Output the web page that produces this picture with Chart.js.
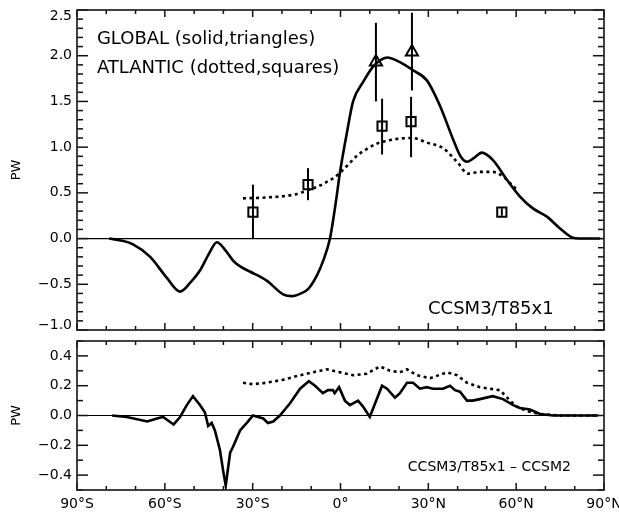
<!DOCTYPE html>
<html><head><meta charset="utf-8">
<script src="https://cdn.jsdelivr.net/npm/chart.js@4"></script>
<style>
html,body{margin:0;padding:0;background:#fff;}
#wrap{position:relative;width:619px;height:517px;overflow:hidden;background:#fff;}
canvas{position:absolute;left:0;}
#c1{top:0;} #c2{top:330px;}
</style></head><body>
<div id="wrap"><canvas id="c1" width="619" height="345"></canvas><canvas id="c2" width="619" height="187"></canvas></div>
<script>
// ---------- data ----------
const xMajorTicks = [-90, -60, -30, 0, 30, 60, 90];
const topYTicks = [-1.0, -0.5, 0.0, 0.5, 1.0, 1.5, 2.0, 2.5];
const botYTicks = [-0.4, -0.2, 0.0, 0.2, 0.4];

// Top panel: total (global) heat transport, solid
const globalLat = [-79, -75, -71, -65, -59.3, -54.8, -51, -48, -45, -42.2, -39.5, -36.7, -34, -31, -25.2, -19.6, -16.6, -13.5, -11, -8, -6, -3.6, -1.5, -0.2, 2.2, 4.3, 7.7, 11.1, 13.5, 15.9, 20.3, 24.8, 29.5, 34, 38.4, 41, 43.2, 45.5, 48.3, 52, 56.9, 61.3, 65.7, 70.5, 75, 79.4, 84, 88.6];
const globalPW  = [0.0, -0.02, -0.06, -0.2, -0.43, -0.58, -0.47, -0.35, -0.17, -0.04, -0.12, -0.24, -0.31, -0.36, -0.46, -0.61, -0.63, -0.6, -0.55, -0.4, -0.25, 0.0, 0.42, 0.72, 1.16, 1.5, 1.71, 1.88, 1.95, 1.98, 1.93, 1.84, 1.73, 1.45, 1.09, 0.9, 0.84, 0.88, 0.94, 0.86, 0.64, 0.46, 0.33, 0.24, 0.11, 0.01, 0.0, 0.0];

// Top panel: Atlantic heat transport, dotted
const atlLat = [-33.3, -25, -16, -11, -7, -4.7, -2, -0.2, 3, 5.4, 9, 12.5, 16, 19.3, 24.4, 29.5, 35, 39.8, 43.6, 47.6, 52, 56.2, 59, 60.5];
const atlPW  = [0.44, 0.45, 0.48, 0.53, 0.58, 0.62, 0.67, 0.72, 0.82, 0.9, 0.98, 1.04, 1.07, 1.09, 1.1, 1.05, 0.99, 0.84, 0.71, 0.73, 0.73, 0.66, 0.57, 0.53];

// Observational estimates
const obsGlobalLat = [12.1, 24.4];
const obsGlobalPW  = [1.93, 2.04];
const obsGlobalLo  = [1.50, 1.62];
const obsGlobalHi  = [2.36, 2.47];
const obsAtlLat = [-29.9, -11.1, 14.2, 24.1, 55.1];
const obsAtlPW  = [0.29, 0.59, 1.23, 1.28, 0.29];
const obsAtlLo  = [0.0, 0.42, 0.92, 0.89, 0.25];
const obsAtlHi  = [0.59, 0.77, 1.53, 1.55, 0.33];

// Bottom panel: difference CCSM3 - CCSM2
const diffGlobalLat = [-78, -73, -66, -62.7, -60.6, -57, -54.8, -52.5, -50.4, -48, -46.3, -45.2, -44, -42.9, -41.2, -40, -39.2, -37.7, -36.7, -34.3, -32, -29.9, -26.4, -24.8, -23, -20.7, -17.3, -13.8, -10.8, -8.7, -6, -4.3, -2.6, -2, -0.5, 1.5, 3.2, 6, 7.7, 10, 11.8, 14.2, 15.9, 18.6, 20.3, 22.7, 24.8, 27.1, 29.5, 31.6, 35, 37.4, 39.1, 40.8, 43.2, 45.2, 47.6, 52, 55.5, 59, 61.3, 64.7, 68.1, 72.6, 80, 88];
const diffGlobalPW  = [0.0, -0.01, -0.04, -0.02, -0.01, -0.06, -0.01, 0.07, 0.13, 0.07, 0.02, -0.07, -0.05, -0.1, -0.23, -0.38, -0.47, -0.25, -0.21, -0.1, -0.05, 0.0, -0.02, -0.05, -0.04, 0.0, 0.08, 0.18, 0.23, 0.2, 0.15, 0.17, 0.17, 0.15, 0.19, 0.1, 0.07, 0.1, 0.06, -0.01, 0.08, 0.2, 0.18, 0.12, 0.15, 0.22, 0.22, 0.18, 0.19, 0.18, 0.18, 0.2, 0.17, 0.16, 0.1, 0.1, 0.11, 0.13, 0.11, 0.07, 0.05, 0.04, 0.01, 0.0, 0.0, 0.0];
const diffAtlLat = [-33.3, -29.9, -25.2, -19.6, -13.8, -9.4, -4.6, -0.2, 4.3, 9, 13.5, 16.9, 20.3, 22.7, 26.1, 30.6, 36.3, 39.8, 43.2, 47.6, 51, 54.5, 57.9, 60.2, 63.6, 68, 75, 88];
const diffAtlPW  = [0.22, 0.21, 0.22, 0.24, 0.27, 0.29, 0.31, 0.29, 0.27, 0.28, 0.33, 0.3, 0.29, 0.31, 0.27, 0.25, 0.29, 0.27, 0.22, 0.19, 0.18, 0.17, 0.1, 0.06, 0.03, 0.01, 0.0, 0.0];

// ---------- helpers ----------
const FONT = "'DejaVu Sans', 'Liberation Sans', Arial, sans-serif";
const pts = (xs, ys) => xs.map((x, i) => ({x: x, y: ys[i]}));
function minorList(lo, hi, step, majors) {
  const out = [];
  const n = Math.round((hi - lo) / step);
  for (let i = 0; i <= n; i++) {
    const v = +(lo + i * step).toFixed(4);
    if (!majors.some(m => Math.abs(m - v) < 1e-6)) out.push(v);
  }
  return out;
}
function latLabel(v) {
  if (v === 0) return '0\u00B0';
  return Math.abs(v) + '\u00B0' + (v < 0 ? 'S' : 'N');
}
function numLabel(v) {
  const s = Math.abs(v).toFixed(1);
  return (v < -1e-9 ? '\u2212' : '') + s;
}
function errorBars(lat, lo, hi) {
  return lat.map((x, i) => ({
    data: [{x: x, y: lo[i]}, {x: x, y: hi[i]}],
    showLine: true, borderColor: '#000', borderWidth: 2, pointRadius: 0, tension: 0
  }));
}

const framePlugin = {
  id: 'frame',
  beforeDatasetsDraw(chart, args, o) {
    const {ctx, chartArea: a, scales} = chart;
    const y0 = scales.y.getPixelForValue(0);
    ctx.save();
    ctx.strokeStyle = '#000'; ctx.lineWidth = 1.2;
    ctx.beginPath(); ctx.moveTo(a.left, y0); ctx.lineTo(a.right, y0); ctx.stroke();
    ctx.restore();
  },
  afterDatasetsDraw(chart, args, o) {
    const {ctx, chartArea: a, scales} = chart;
    const xs = scales.x, ys = scales.y;
    ctx.save();
    ctx.strokeStyle = '#111'; ctx.lineWidth = 1.5;
    const seg = (x1, y1, x2, y2) => { ctx.beginPath(); ctx.moveTo(x1, y1); ctx.lineTo(x2, y2); ctx.stroke(); };
    o.xMajor.forEach(v => { const p = xs.getPixelForValue(v); seg(p, a.bottom, p, a.bottom - 7); seg(p, a.top, p, a.top + 7); });
    o.xMinor.forEach(v => { const p = xs.getPixelForValue(v); seg(p, a.bottom, p, a.bottom - 4); seg(p, a.top, p, a.top + 4); });
    o.yMajor.forEach(v => { const p = ys.getPixelForValue(v); seg(a.left, p, a.left + 11, p); seg(a.right, p, a.right - 11, p); });
    o.yMinor.forEach(v => { const p = ys.getPixelForValue(v); seg(a.left, p, a.left + 6, p); seg(a.right, p, a.right - 6, p); });
    ctx.lineWidth = 1.7; ctx.strokeStyle = '#222';
    ctx.strokeRect(a.left, a.top, a.right - a.left, a.bottom - a.top);
    ctx.fillStyle = '#000';
    // end tick labels nudged inside the frame (as in the original figure)
    ctx.textAlign = 'right'; ctx.textBaseline = 'middle';
    ctx.font = '14px ' + FONT;
    (o.endLabels || []).forEach(e => {
      ctx.fillText(numLabel(e.v), a.left - 5, ys.getPixelForValue(e.v) + e.dy);
    });
    // annotations
    ctx.textAlign = 'left';
    (o.texts || []).forEach(t => {
      ctx.font = t.size + 'px ' + FONT;
      ctx.fillText(t.text, xs.getPixelForValue(t.x), ys.getPixelForValue(t.y));
    });
    ctx.restore();
  }
};

function yScale(min, max, ticks, hidden) {
  return {
    type: 'linear', min: min, max: max,
    afterBuildTicks: s => { s.ticks = ticks.map(v => ({value: v})); },
    afterFit: s => { s.width = 77; s.paddingTop = 0; s.paddingBottom = 0; },
    grid: {display: false, drawTicks: false},
    border: {display: false},
    ticks: {color: '#000', font: {family: FONT, size: 14}, padding: 5,
      callback: v => hidden.some(h => Math.abs(h - v) < 1e-6) ? '' : numLabel(v)},
    title: {display: true, text: 'PW', color: '#000', font: {family: FONT, size: 13}, padding: {top: 9, bottom: 0}}
  };
}
function xScale(show, h) {
  return {
    type: 'linear', min: -90, max: 90, display: show,
    afterBuildTicks: s => { s.ticks = xMajorTicks.map(v => ({value: v})); },
    afterFit: s => { s.height = h; s.paddingLeft = 0; s.paddingRight = 0; },
    grid: {display: false, drawTicks: false},
    border: {display: false},
    ticks: {color: '#000', font: {family: FONT, size: 14}, padding: 6, maxRotation: 0, autoSkip: false, callback: v => latLabel(v)}
  };
}

const xMinor = minorList(-90, 90, 10, xMajorTicks);
const topMajorY = [-1.0, -0.5, 0.0, 0.5, 1.0, 1.5, 2.0, 2.5];
const botMajorY = [-0.4, -0.2, 0.0, 0.2, 0.4];

Chart.defaults.devicePixelRatio = 1;

new Chart(document.getElementById('c1'), {
  type: 'scatter',
  data: {datasets: [
    {data: pts(globalLat, globalPW), showLine: true, borderColor: '#000', borderWidth: 2.6, pointRadius: 0, cubicInterpolationMode: 'monotone'},
    {data: pts(atlLat, atlPW), showLine: true, borderColor: '#000', borderWidth: 2.6, borderDash: [3, 3.5], pointRadius: 0, cubicInterpolationMode: 'monotone'},
    ...errorBars(obsGlobalLat, obsGlobalLo, obsGlobalHi),
    ...errorBars(obsAtlLat, obsAtlLo, obsAtlHi),
    {data: pts(obsGlobalLat, obsGlobalPW), pointStyle: 'triangle', pointRadius: 7, borderColor: '#000', borderWidth: 2, backgroundColor: 'rgba(0,0,0,0)'},
    {data: pts(obsAtlLat, obsAtlPW), pointStyle: 'rect', pointRadius: 6.5, borderColor: '#000', borderWidth: 2, backgroundColor: 'rgba(0,0,0,0)'}
  ]},
  options: {
    responsive: false, animation: false, events: [],
    layout: {padding: {left: 0, right: 15, top: 10, bottom: 15}},
    plugins: {legend: {display: false}, tooltip: {enabled: false},
      frame: {xMajor: xMajorTicks, xMinor: xMinor, yMajor: topMajorY, yMinor: minorList(-1, 2.5, 0.1, topMajorY),
        endLabels: [{v: 2.5, dy: 6}, {v: -1.0, dy: -5}],
        texts: [
          {text: 'GLOBAL (solid,triangles)', x: -83.2, y: 2.18, size: 18},
          {text: 'ATLANTIC (dotted,squares)', x: -83.2, y: 1.86, size: 18},
          {text: 'CCSM3/T85x1', x: 29.9, y: -0.77, size: 18}
        ]}},
    scales: {x: xScale(false, 0), y: yScale(-1, 2.5, topYTicks, [2.5, -1.0])}
  },
  plugins: [framePlugin]
});

new Chart(document.getElementById('c2'), {
  type: 'scatter',
  data: {datasets: [
    {data: pts(diffGlobalLat, diffGlobalPW), showLine: true, borderColor: '#000', borderWidth: 2.6, pointRadius: 0, tension: 0},
    {data: pts(diffAtlLat, diffAtlPW), showLine: true, borderColor: '#000', borderWidth: 2.6, borderDash: [3, 3.5], pointRadius: 0, tension: 0}
  ]},
  options: {
    responsive: false, animation: false, events: [],
    layout: {padding: {left: 0, right: 15, top: 11, bottom: 0}},
    plugins: {legend: {display: false}, tooltip: {enabled: false},
      frame: {xMajor: xMajorTicks, xMinor: xMinor, yMajor: botMajorY, yMinor: [-0.5, -0.3, -0.1, 0.1, 0.3, 0.5],
        texts: [{text: 'CCSM3/T85x1 \u2013 CCSM2', x: 23.0, y: -0.35, size: 14}]}},
    scales: {x: xScale(true, 27), y: yScale(-0.5, 0.5, botYTicks, [])}
  },
  plugins: [framePlugin]
});
</script>
</body></html>
